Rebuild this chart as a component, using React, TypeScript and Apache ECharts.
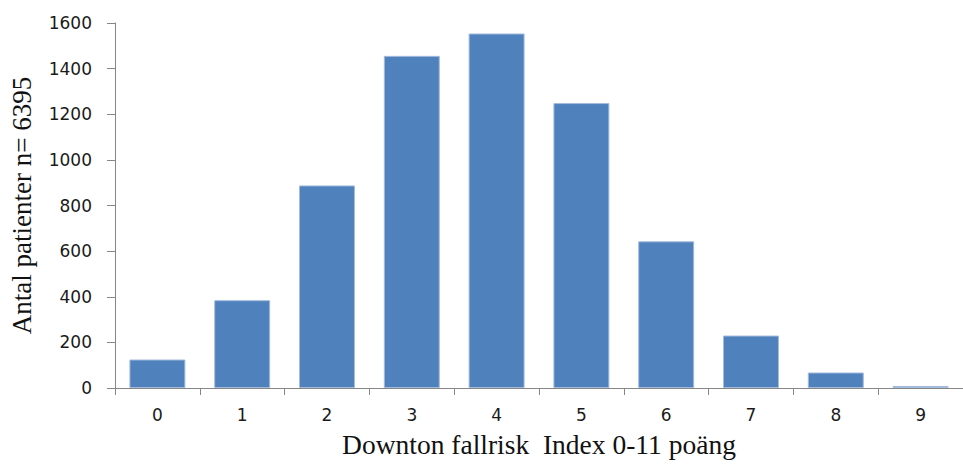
import React, { useEffect, useRef } from "react";
import * as echarts from "echarts";

const categories = ["0", "1", "2", "3", "4", "5", "6", "7", "8", "9"];
const counts = [125, 385, 888, 1456, 1554, 1249, 643, 230, 68, 9];
const yTicks = { min: 0, max: 1600, interval: 200 };
const xTitle = "Downton fallrisk  Index 0-11 poäng";
const yTitle = "Antal patienter n= 6395";

export default function App() {
  const ref = useRef<HTMLDivElement>(null);
  useEffect(() => {
    if (!ref.current) return;
    const chart = echarts.init(ref.current, null, { renderer: "svg" });
    const axisColor = "#868686";
    chart.setOption({
      animation: false,
      backgroundColor: "#ffffff",
      grid: { left: 115, right: -5, top: 23, bottom: 77, containLabel: false },
      xAxis: {
        type: "category",
        data: categories,
        axisLine: { show: true, lineStyle: { color: axisColor, width: 1 } },
        axisTick: { show: true, length: 7, lineStyle: { color: axisColor } },
        axisLabel: { color: "#1a1a1a", fontFamily: "DejaVu Sans", fontSize: 17, margin: 18 },
        name: xTitle,
        nameLocation: "middle",
        nameGap: 42,
        nameTextStyle: { color: "#111", fontFamily: "Liberation Serif", fontSize: 27.5 },
      },
      yAxis: {
        type: "value",
        min: yTicks.min,
        max: yTicks.max,
        interval: yTicks.interval,
        splitLine: { show: false },
        axisLine: { show: true, lineStyle: { color: axisColor, width: 1 } },
        axisTick: { show: true, length: 8, lineStyle: { color: axisColor } },
        axisLabel: {
          color: "#1a1a1a",
          fontFamily: "DejaVu Sans",
          fontSize: 17,
          margin: 23,
          formatter: (v: number) => String(v),
        },
        name: yTitle,
        nameLocation: "middle",
        nameRotate: 90,
        nameGap: 80,
        nameTextStyle: { color: "#111", fontFamily: "Liberation Serif", fontSize: 27 },
      },
      series: [
        {
          type: "bar",
          data: counts,
          barCategoryGap: "34%",
          itemStyle: { color: "#4F81BD", borderColor: "#A3BCDD", borderWidth: 1 },
        },
      ],
    });
    return () => chart.dispose();
  }, []);
  return (
    <div
      ref={ref}
      style={{ position: "fixed", left: 0, top: 0, width: 963, height: 465, background: "#fff" }}
    />
  );
}
